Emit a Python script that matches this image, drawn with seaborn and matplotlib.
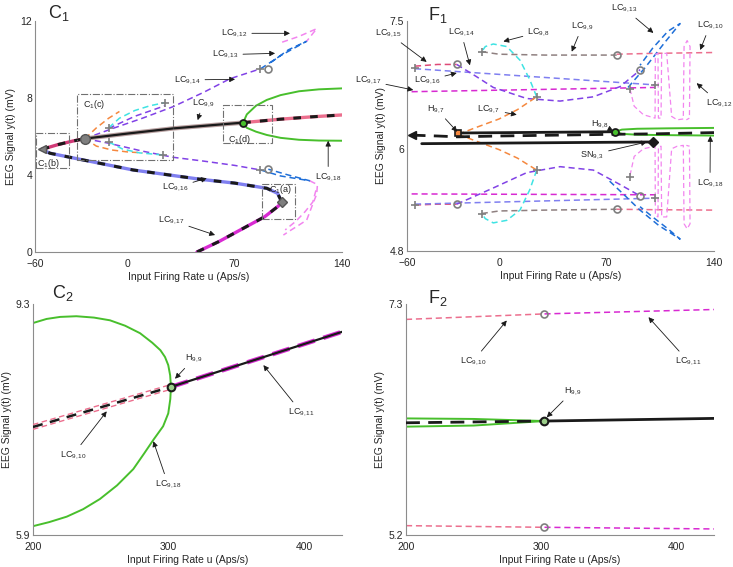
"""Bifurcation diagrams C1/C2/F1/F2 redrawn with seaborn"""
import matplotlib
matplotlib.use('Agg')
import matplotlib.pyplot as plt
from matplotlib.patches import Rectangle
import seaborn as sns

# ---------------- C1 ----------------
c1_eq_low_u = [45.5, 60, 73.6, 89.6, 98.6, 100.7]
c1_eq_low_y = [0.0, 0.55, 1.14, 1.83, 2.39, 2.61]
c1_eq_mid_u = [100.7, 98, 91, 70, 47.5, 4, -28.5, -50.2, -55.6]
c1_eq_mid_y = [2.61, 3.05, 3.31, 3.58, 3.78, 4.26, 4.78, 5.13, 5.33]
c1_eq_left_u = [-55.6, -45, -35, -27.4]
c1_eq_left_y = [5.33, 5.58, 5.77, 5.89]
c1_eq_stab_u = [-27.4, 0, 30, 60, 75.6]
c1_eq_stab_y = [5.89, 6.15, 6.42, 6.62, 6.72]
c1_eq_right_u = [75.6, 100, 120, 140]
c1_eq_right_y = [6.72, 6.9, 7.02, 7.12]

c1_green_u = [75.6, 78, 84, 91, 100, 112, 125, 140]
c1_green_hi = [6.72, 7.15, 7.6, 7.9, 8.15, 8.35, 8.45, 8.5]
c1_green_lo = [6.72, 6.45, 6.25, 6.08, 5.93, 5.83, 5.79, 5.78]

c1_purple_hi_u = [-27.4, -10, 10, 30, 50, 67, 87]
c1_purple_hi_y = [5.89, 6.4, 6.95, 7.55, 8.3, 9.0, 9.52]
c1_purple_in_u = [-12, 5, 24.7]
c1_purple_in_y = [6.42, 7.05, 7.6]
c1_purple_lo_u = [-27.4, -12, 10, 30, 50, 70, 87]
c1_purple_lo_y = [5.89, 5.65, 5.24, 4.92, 4.72, 4.5, 4.26]

c1_blue_hi_u = [87, 100, 117, 105, 92]
c1_blue_hi_y = [9.52, 10.2, 10.95, 10.5, 9.75]
c1_blue_lo_u = [87, 100, 119, 105, 92]
c1_blue_lo_y = [4.26, 3.95, 3.7, 4.0, 4.3]

c1_pink_hi_u = [101, 112, 123.5, 117]
c1_pink_hi_y = [10.9, 11.2, 11.6, 10.95]
c1_pink_lo_u = [119, 124, 123.5, 121, 117, 112, 106, 101.8]
c1_pink_lo_y = [3.7, 3.5, 3.0, 2.5, 1.66, 1.4, 1.1, 0.88]
c1_pink_lo2_u = [123, 121, 116, 110, 103]
c1_pink_lo2_y = [3.2, 2.6, 2.1, 1.6, 1.15]

c1_orange_hi_u = [-27.4, -20, -12, -5]
c1_orange_hi_y = [5.89, 6.45, 6.95, 7.3]
c1_orange_lo_u = [-27.4, -20, -10, 0, 10]
c1_orange_lo_y = [5.89, 5.5, 5.3, 5.2, 5.15]
c1_cyan_hi_u = [-12, -5, 5, 15, 24.7]
c1_cyan_hi_y = [6.45, 6.95, 7.35, 7.6, 7.76]
c1_cyan_lo_u = [-12, -3, 8, 23.5]
c1_cyan_lo_y = [5.72, 5.35, 5.15, 5.04]

c1_plus_u = [86.6, 24.7, 23.5, -12, -12, 86.6]
c1_plus_y = [9.5, 7.76, 5.04, 6.42, 5.72, 4.26]
c1_circ_u = [91.5, 91.5]
c1_circ_y = [9.5, 4.3]

c1_boxes = [(88, 109.5, 1.7, 3.52), (-59.6, -37.8, 4.35, 6.17),
            (-32.8, 30.1, 4.78, 8.19), (62.7, 94.2, 5.65, 7.64)]
c1_box_text = ['C$_1$(a)', 'C$_1$(b)', 'C$_1$(c)', 'C$_1$(d)']
c1_box_pos = [(100, 3.25), (-51.5, 4.6), (-21.6, 7.65), (73, 5.85)]

c1_notes = ['LC$_{9,12}$', 'LC$_{9,13}$', 'LC$_{9,14}$', 'LC$_{9,9}$',
            'LC$_{9,16}$', 'LC$_{9,17}$', 'LC$_{9,18}$']
c1_note_txt = [(69.6, 11.36), (63.8, 10.25), (39, 8.94), (49.5, 7.75),
               (31.2, 3.35), (28.6, 1.65), (131, 3.9)]
c1_note_head = [(106.1, 11.36), (96.4, 10.32), (70.3, 8.97), (46, 6.85),
                (51.9, 3.83), (57.3, 0.88), (131, 5.78)]

# ---------------- F1 ----------------
f1_eq_top_u = [-26.6, 75.5]
f1_eq_top_y = [6.185, 6.20]
f1_eq_dash_u = [-57, -40, -27, 0, 75, 100, 140]
f1_eq_dash_y = [6.16, 6.15, 6.14, 6.15, 6.17, 6.175, 6.19]
f1_eq_bot_u = [-50.4, 100.5]
f1_eq_bot_y = [6.06, 6.08]

f1_green_u = [75.5, 80, 90, 110, 140]
f1_green_hi = [6.2, 6.225, 6.235, 6.24, 6.245]
f1_green_lo = [6.2, 6.175, 6.165, 6.16, 6.155]

f1_orange_u = [-26.6, -15, 0, 12, 24.5]
f1_orange_hi = [6.17, 6.25, 6.35, 6.46, 6.61]
f1_orange_lo = [6.17, 6.09, 5.99, 5.89, 5.75]

f1_cyan_u = [24.5, 20, 13.6, 5, -3.8, -9, -11.3]
f1_cyan_hi = [6.61, 6.81, 7.04, 7.2, 7.23, 7.2, 7.14]
f1_cyan_lo = [5.75, 5.52, 5.28, 5.16, 5.13, 5.18, 5.24]

f1_gray_u = [-11.3, 0, 30, 76.6]
f1_gray_hi = [7.14, 7.11, 7.1, 7.1]
f1_gray_lo = [5.24, 5.27, 5.28, 5.29]

f1_lc10_u = [76.6, 100, 140]
f1_lc10_hi = [7.11, 7.12, 7.13]
f1_lc10_lo = [5.29, 5.285, 5.28]

f1_lc15_u = [-54.8, -40, -27.6]
f1_lc15_hi = [6.97, 6.99, 6.99]
f1_lc15_lo = [5.34, 5.35, 5.35]

f1_purple_u = [-27.6, -15, -3.8, 18, 39.7, 61.4, 78.8, 89.6, 91.8]
f1_purple_hi = [6.99, 6.85, 6.72, 6.59, 6.56, 6.61, 6.73, 6.89, 6.93]
f1_purple_lo = [5.35, 5.45, 5.54, 5.72, 5.79, 5.75, 5.58, 5.47, 5.44]

f1_lav_u = [-54.8, 101.5]
f1_lav_hi = [6.94, 6.75]
f1_lav_lo = [5.35, 5.42]

f1_mag_u = [-57, 101.5]
f1_mag_hi = [6.67, 6.72]
f1_mag_lo = [5.47, 5.46]

f1_blue_hi_u = [84, 95, 108, 117.9, 110, 100, 91.8]
f1_blue_hi_y = [6.72, 6.95, 7.25, 7.47, 7.38, 7.18, 6.98]
f1_blue_lo_u = [72, 82, 91.8, 104, 117.9, 110, 100, 91.8]
f1_blue_lo_y = [5.62, 5.45, 5.28, 5.1, 4.94, 5.06, 5.2, 5.32]

f1_pink_u = [85.3, 88, 94, 101.6, 101.8, 103.5, 103.8, 105.5, 105.9, 109.2,
             112.4, 116, 120, 120.5, 122.5, 124.4, 124, 122]
f1_pink_hi = [6.7, 6.5, 6.4, 6.36, 7.11, 7.12, 6.36, 6.36, 7.12, 7.12,
              6.38, 6.34, 6.35, 7.2, 7.27, 7.2, 6.36, 6.34]
f1_pink_lo = [5.69, 5.91, 6.0, 6.03, 5.22, 5.2, 6.02, 6.03, 5.2, 5.2,
              6.0, 6.03, 6.04, 5.12, 5.06, 5.12, 6.03, 6.04]

f1_plus_u = [-54.8, -54.8, -11.3, -11.3, 24.5, 24.5, 85.3, 85.3, 101.5, 101.5]
f1_plus_y = [6.95, 5.34, 7.14, 5.24, 6.61, 5.75, 6.7, 5.67, 6.75, 5.42]
f1_circ_u = [-27.6, -27.6, 76.6, 76.6, 91.8, 91.8]
f1_circ_y = [6.99, 5.35, 7.1, 5.29, 6.93, 5.44]

f1_notes = ['LC$_{9,15}$', 'LC$_{9,14}$', 'LC$_{9,8}$', 'LC$_{9,9}$', 'LC$_{9,13}$',
            'LC$_{9,10}$', 'LC$_{9,17}$', 'LC$_{9,16}$', 'LC$_{9,12}$', 'H$_{9,7}$',
            'LC$_{9,7}$', 'H$_{9,8}$', 'SN$_{9,3}$', 'LC$_{9,18}$']
f1_note_txt = [(-72.4, 7.36), (-24.8, 7.37), (26, 7.37), (54.3, 7.44), (81.4, 7.65),
               (137.4, 7.45), (-85.4, 6.8), (-47, 6.8), (143.2, 6.54), (-41, 6.47),
               (-6.6, 6.46), (65.7, 6.29), (60.5, 5.93), (137.4, 5.6)]
f1_note_head = [(-47.2, 7.02), (-19, 6.98), (2.8, 7.26), (47.3, 7.14), (100.5, 7.36),
                (131, 7.16), (-55.9, 6.69), (-27.6, 6.89), (128.7, 6.77), (-27.3, 6.2),
                (11.5, 6.4), (74.4, 6.21), (96.2, 6.08), (137.6, 6.15)]

# ---------------- C2 ----------------
c2_green_u = [200, 210, 220, 232, 245, 256.8, 268, 279, 288, 294, 297.4, 299.8, 301.2, 301.8,
              301.3, 299.8, 296, 288.8, 282, 274, 262, 249.4, 237, 224.9, 212, 200]
c2_green_y = [9.02, 9.08, 9.11, 9.12, 9.1, 9.06, 8.98, 8.87, 8.73, 8.62, 8.52, 8.4, 8.25, 8.08,
              7.9, 7.69, 7.5, 7.3, 7.1, 6.87, 6.63, 6.43, 6.28, 6.17, 6.09, 6.03]
c2_eq_left_u = [200, 301.8]
c2_eq_left_y = [7.49, 8.08]
c2_eq_right_u = [301.8, 428]
c2_eq_right_y = [8.08, 8.89]
c2_notes = ['H$_{9,9}$', 'LC$_{9,10}$', 'LC$_{9,18}$', 'LC$_{9,11}$']
c2_note_txt = [(318.8, 8.5), (229.5, 7.08), (299.6, 6.65), (397.8, 7.71)]
c2_note_head = [(304.8, 8.2), (254.4, 7.72), (288.8, 7.28), (370, 8.4)]

# ---------------- F2 ----------------
f2_lc10_u = [200, 302.5]
f2_lc10_hi = [7.16, 7.21]
f2_lc10_lo = [5.285, 5.27]
f2_lc11_u = [302.5, 428]
f2_lc11_hi = [7.21, 7.25]
f2_lc11_lo = [5.27, 5.255]
f2_eq_left_u = [200, 302.5]
f2_eq_left_y = [6.22, 6.236]
f2_eq_right_u = [302.5, 428]
f2_eq_right_y = [6.236, 6.26]
f2_green_u = [200, 250, 302.5]
f2_green_hi = [6.26, 6.255, 6.236]
f2_green_lo = [6.185, 6.195, 6.236]
f2_notes = ['H$_{9,9}$', 'LC$_{9,10}$', 'LC$_{9,11}$']
f2_note_txt = [(323.7, 6.51), (249.6, 6.78), (408.9, 6.78)]
f2_note_head = [(304.2, 6.27), (274.6, 7.15), (379.5, 7.18)]

GREEN = '#48bf2c'
ORANGE = '#f5883f'
CYAN = '#3fe3e3'
PURPLE = '#8142e6'
BLUE = '#1f6fd8'
LAV = '#7f7ff0'
MAG = '#d82ad2'
VIOLET = '#f285ef'
PINKRED = '#ec6f8e'
GRAYLC = '#8f8080'
MGRAY = '#7f7f7f'

sns.set_theme(style='white')
plt.rcParams['font.family'] = ['Liberation Sans', 'DejaVu Sans']
plt.rcParams['mathtext.fontset'] = 'custom'
plt.rcParams['mathtext.rm'] = 'Liberation Sans'
plt.rcParams['mathtext.it'] = 'Liberation Sans:italic'

DASH = (0, (4, 2.5))


def line(ax, u, y, color, ls=DASH, lw=1.1, z=2):
    sns.lineplot(x=u, y=y, sort=False, estimator=None, color=color,
                 linestyle=ls, linewidth=lw, zorder=z, ax=ax)


def eq_dashed(ax, u, y, color):
    line(ax, u, y, color, ls='-', lw=2.4, z=3)
    line(ax, u, y, 'k', ls=(0, (2.5, 3)), lw=2.2, z=4)


def notes(ax, labels, txt, head):
    for lab, t, h in zip(labels, txt, head):
        ax.annotate(lab, xy=h, xytext=t, fontsize=6.5, ha='center', va='center',
                    annotation_clip=False, zorder=10,
                    arrowprops=dict(arrowstyle='-|>', color='k', lw=0.6,
                                    mutation_scale=8, shrinkA=1, shrinkB=0))


def style(ax, xlim, ylim, xt, yt, ytl):
    ax.set_xlim(*xlim)
    ax.set_ylim(*ylim)
    ax.set_xticks(xt)
    ax.set_yticks(yt)
    ax.set_yticklabels(ytl)
    for s in ['top', 'right']:
        ax.spines[s].set_visible(False)
    for s in ['left', 'bottom']:
        ax.spines[s].set_color('#8c8c8c')
        ax.spines[s].set_linewidth(0.8)
    ax.tick_params(direction='in', length=3, width=0.6, color='#8c8c8c',
                   labelsize=7.5, labelcolor='#262626', pad=2)
    ax.tick_params(axis='x', pad=5)
    ax.set_xlabel('Input Firing Rate u (Aps/s)', fontsize=7.5, labelpad=2, color='#262626')
    ax.set_ylabel('EEG Signal y(t) (mV)', fontsize=7.5, labelpad=3, color='#262626')


fig = plt.figure(figsize=(7.33, 5.67), dpi=100)
W, H = 733, 567
ax_c1 = fig.add_axes([35 / W, 1 - 252 / H, 307 / W, 231 / H])
ax_f1 = fig.add_axes([407 / W, 1 - 251 / H, 307 / W, 230 / H])
ax_c2 = fig.add_axes([33 / W, 1 - 535 / H, 309 / W, 231 / H])
ax_f2 = fig.add_axes([406 / W, 1 - 535 / H, 308 / W, 231 / H])

# ---- C1 ----
ax = ax_c1
eq_dashed(ax, c1_eq_low_u, c1_eq_low_y, MAG)
eq_dashed(ax, c1_eq_mid_u, c1_eq_mid_y, LAV)
eq_dashed(ax, c1_eq_left_u, c1_eq_left_y, '#d23a78')
eq_dashed(ax, c1_eq_right_u, c1_eq_right_y, PINKRED)
line(ax, c1_eq_stab_u, c1_eq_stab_y, '#b8a0a0', ls='-', lw=3.2, z=3)
line(ax, c1_eq_stab_u, c1_eq_stab_y, 'k', ls='-', lw=1.6, z=4)
line(ax, c1_green_u, c1_green_hi, GREEN, ls='-', lw=1.4)
line(ax, c1_green_u, c1_green_lo, GREEN, ls='-', lw=1.4)
line(ax, c1_purple_hi_u, c1_purple_hi_y, PURPLE)
line(ax, c1_purple_in_u, c1_purple_in_y, PURPLE)
line(ax, c1_purple_lo_u, c1_purple_lo_y, PURPLE)
line(ax, c1_blue_hi_u, c1_blue_hi_y, BLUE)
line(ax, c1_blue_lo_u, c1_blue_lo_y, BLUE)
line(ax, c1_pink_hi_u, c1_pink_hi_y, VIOLET)
line(ax, c1_pink_lo_u, c1_pink_lo_y, VIOLET)
line(ax, c1_pink_lo2_u, c1_pink_lo2_y, VIOLET)
line(ax, c1_orange_hi_u, c1_orange_hi_y, ORANGE)
line(ax, c1_orange_lo_u, c1_orange_lo_y, ORANGE)
line(ax, c1_cyan_hi_u, c1_cyan_hi_y, CYAN)
line(ax, c1_cyan_lo_u, c1_cyan_lo_y, CYAN)
ax.plot(c1_plus_u, c1_plus_y, ls='none', marker='+', ms=6, mew=1.2, color=MGRAY, zorder=6)
ax.plot(c1_circ_u, c1_circ_y, ls='none', marker='o', ms=5, mew=1.2, mfc='none', mec=MGRAY, zorder=6)
ax.plot([c1_eq_stab_u[0]], [c1_eq_stab_y[0]], marker='o', ms=7, color=MGRAY, mec='#555555', zorder=7)
ax.plot([c1_eq_mid_u[-1]], [c1_eq_mid_y[-1]], marker='<', ms=6, color=MGRAY, mec='#555555', zorder=7)
ax.plot([c1_eq_low_u[-1]], [c1_eq_low_y[-1]], marker='D', ms=5, color=MGRAY, mec='#555555', zorder=7)
ax.plot([c1_green_u[0]], [c1_green_hi[0]], marker='o', ms=5, mew=1.3, mfc=GREEN, mec='k', zorder=7)
for (u0, u1, y0, y1), lab, pos in zip(c1_boxes, c1_box_text, c1_box_pos):
    ax.add_patch(Rectangle((u0, y0), u1 - u0, y1 - y0, fill=False, ec='#707070',
                           lw=0.8, ls='-.', zorder=5))
    ax.text(pos[0], pos[1], lab, fontsize=6.5, ha='center', va='center', zorder=8)
notes(ax, c1_notes, c1_note_txt, c1_note_head)
style(ax, (-60, 140), (0, 12), [-60, 0, 70, 140], [0, 4, 8, 12], ['0', '4', '8', '12'])

# ---- F1 ----
ax = ax_f1
line(ax, f1_lc15_u, f1_lc15_hi, '#de4a78')
line(ax, f1_lc15_u, f1_lc15_lo, '#de4a78')
line(ax, f1_lav_u, f1_lav_hi, LAV)
line(ax, f1_lav_u, f1_lav_lo, LAV)
line(ax, f1_mag_u, f1_mag_hi, MAG)
line(ax, f1_mag_u, f1_mag_lo, MAG)
line(ax, f1_purple_u, f1_purple_hi, PURPLE)
line(ax, f1_purple_u, f1_purple_lo, PURPLE)
line(ax, f1_orange_u, f1_orange_hi, ORANGE)
line(ax, f1_orange_u, f1_orange_lo, ORANGE)
line(ax, f1_cyan_u, f1_cyan_hi, CYAN)
line(ax, f1_cyan_u, f1_cyan_lo, CYAN)
line(ax, f1_gray_u, f1_gray_hi, GRAYLC)
line(ax, f1_gray_u, f1_gray_lo, GRAYLC)
line(ax, f1_lc10_u, f1_lc10_hi, PINKRED)
line(ax, f1_lc10_u, f1_lc10_lo, PINKRED)
line(ax, f1_blue_hi_u, f1_blue_hi_y, BLUE)
line(ax, f1_blue_lo_u, f1_blue_lo_y, BLUE)
line(ax, f1_pink_u, f1_pink_hi, VIOLET, lw=0.9)
line(ax, f1_pink_u, f1_pink_lo, VIOLET, lw=0.9)
line(ax, f1_green_u, f1_green_hi, GREEN, ls='-', lw=1.4)
line(ax, f1_green_u, f1_green_lo, GREEN, ls='-', lw=1.4)
line(ax, f1_eq_top_u, f1_eq_top_y, 'k', ls='-', lw=2.0, z=4)
line(ax, f1_eq_dash_u, f1_eq_dash_y, 'k', ls=(0, (5, 3)), lw=2.0, z=4)
line(ax, f1_eq_bot_u, f1_eq_bot_y, 'k', ls='-', lw=2.0, z=4)
ax.plot(f1_plus_u, f1_plus_y, ls='none', marker='+', ms=6, mew=1.2, color=MGRAY, zorder=6)
ax.plot(f1_circ_u, f1_circ_y, ls='none', marker='o', ms=5, mew=1.2, mfc='none', mec=MGRAY, zorder=6)
ax.plot([f1_eq_dash_u[0]], [f1_eq_dash_y[0]], marker='<', ms=6, color='k', zorder=7)
ax.plot([f1_eq_bot_u[-1]], [f1_eq_bot_y[-1]], marker='D', ms=5, color='k', zorder=7)
ax.plot([f1_eq_top_u[0]], [f1_eq_top_y[0]], marker='s', ms=4.5, mew=1.2, mfc=ORANGE, mec='k', zorder=7)
ax.plot([f1_green_u[0]], [f1_green_hi[0]], marker='o', ms=5, mew=1.3, mfc=GREEN, mec='k', zorder=7)
notes(ax, f1_notes, f1_note_txt, f1_note_head)
style(ax, (-60, 140), (4.8, 7.5), [-60, 0, 70, 140], [4.8, 6, 7.5], ['4.8', '6', '7.5'])

# ---- C2 ----
ax = ax_c2
line(ax, c2_green_u, c2_green_y, GREEN, ls='-', lw=1.4)
line(ax, c2_eq_left_u, [v + 0.035 for v in c2_eq_left_y], PINKRED, lw=1.0, z=3)
line(ax, c2_eq_left_u, [v - 0.035 for v in c2_eq_left_y], PINKRED, lw=1.0, z=3)
line(ax, c2_eq_left_u, c2_eq_left_y, 'k', ls=(0, (4, 3)), lw=1.8, z=4)
line(ax, c2_eq_right_u, c2_eq_right_y, MAG, ls=(0, (4, 2)), lw=3.2, z=3)
line(ax, c2_eq_right_u, c2_eq_right_y, 'k', ls='-', lw=1.6, z=4)
ax.plot([c2_eq_right_u[0]], [c2_eq_right_y[0]], marker='o', ms=5.5, mew=1.5, mfc='#9ccf8a', mec='k', zorder=7)
notes(ax, c2_notes, c2_note_txt, c2_note_head)
style(ax, (200, 428), (5.9, 9.3), [200, 300, 400], [5.9, 9.3], ['5.9', '9.3'])

# ---- F2 ----
ax = ax_f2
line(ax, f2_lc10_u, f2_lc10_hi, PINKRED)
line(ax, f2_lc10_u, f2_lc10_lo, PINKRED)
line(ax, f2_lc11_u, f2_lc11_hi, MAG)
line(ax, f2_lc11_u, f2_lc11_lo, MAG)
line(ax, f2_green_u, f2_green_hi, GREEN, ls='-', lw=1.4)
line(ax, f2_green_u, f2_green_lo, GREEN, ls='-', lw=1.4)
line(ax, f2_eq_left_u, f2_eq_left_y, 'k', ls=(0, (5, 3)), lw=2.0, z=4)
line(ax, f2_eq_right_u, f2_eq_right_y, 'k', ls='-', lw=2.0, z=4)
ax.plot([f2_lc10_u[-1]] * 2, [f2_lc10_hi[-1], f2_lc10_lo[-1]], ls='none', marker='o', ms=5,
        mew=1.2, mfc='none', mec=MGRAY, zorder=6)
ax.plot([f2_eq_right_u[0]], [f2_eq_right_y[0]], marker='o', ms=5.5, mew=1.5, mfc='#9ccf8a', mec='k', zorder=7)
notes(ax, f2_notes, f2_note_txt, f2_note_head)
style(ax, (200, 428), (5.2, 7.3), [200, 300, 400], [5.2, 7.3], ['5.2', '7.3'])

# panel titles
for x, y, lab in [(48, 3, 'C$_1$'), (428, 5, 'F$_1$'), (52, 283, 'C$_2$'), (428, 288, 'F$_2$')]:
    fig.text(x / W, 1 - y / H, lab, fontsize=13, ha='left', va='top')

fig.savefig('out.png', dpi=100)
